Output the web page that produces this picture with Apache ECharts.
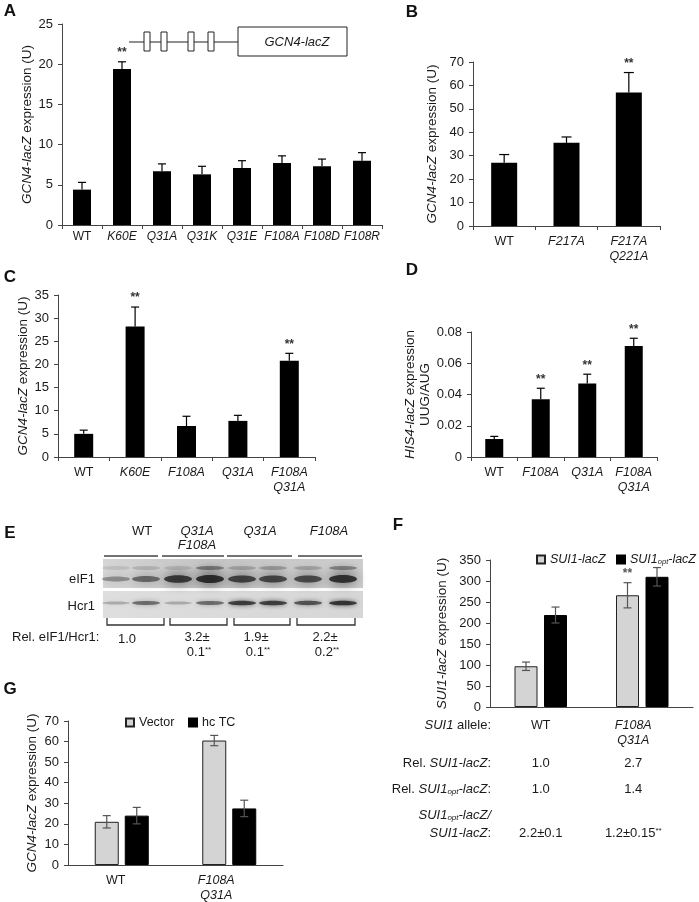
<!DOCTYPE html>
<html><head><meta charset="utf-8">
<script src="https://cdn.jsdelivr.net/npm/echarts@6/dist/echarts.min.js"></script>
<style>html,body{margin:0;padding:0;background:#fff}#c{width:699px;height:902px}</style>
</head><body><div id="c"></div>
<script>
// ---------- DATA ----------
// Panel A
const catsA = ['WT','K60E','Q31A','Q31K','Q31E','F108A','F108D','F108R'];
const valsA = [4.4,19.4,6.7,6.3,7.1,7.7,7.3,8.0];
const errA  = [0.9,0.9,0.9,1.0,0.9,0.9,0.9,1.0];
const sigA  = ['','**','','','','','',''];
const ticksA = [0,5,10,15,20,25];
// Panel B
const catsB = ['WT','F217A','F217A\nQ221A'];
const valsB = [27,35.5,57];
const errB  = [3.5,2.5,8.5];
const sigB  = ['','','**'];
const ticksB = [0,10,20,30,40,50,60,70];
// Panel C
const catsC = ['WT','K60E','F108A','Q31A','F108A\nQ31A'];
const valsC = [5.0,28.2,6.7,7.8,20.8];
const errC  = [0.8,4.2,2.1,1.2,1.6];
const sigC  = ['','**','','','**'];
const ticksC = [0,5,10,15,20,25,30,35];
// Panel D
const catsD = ['WT','F108A','Q31A','F108A\nQ31A'];
const valsD = [0.0115,0.037,0.047,0.071];
const errD  = [0.0017,0.007,0.006,0.005];
const sigD  = ['','**','**','**'];
const ticksD = [0,0.02,0.04,0.06,0.08];
// Panel E (western blot)
const lanesE = ['WT','Q31A\nF108A','Q31A','F108A'];
const relE   = ['1.0','3.2±\n0.1**','1.9±\n0.1**','2.2±\n0.2**'];
const eif1Band  = [0.42,0.62,0.92,1.0,0.85,0.82,0.8,0.97];
const eif1Upper = [0.12,0.18,0.14,0.5,0.25,0.3,0.25,0.45];
const hcr1Band  = [0.28,0.6,0.28,0.6,0.85,0.85,0.72,0.9];
// Panel F
const catsF = ['WT','F108A\nQ31A'];
const seriesF = ['SUI1-lacZ','SUI1opt-lacZ'];
const valsF1 = [97,266];   const errF1 = [10,30]; const sigF1 = ['','**'];
const valsF2 = [219,310];  const errF2 = [19,22];
const ticksF = [0,50,100,150,200,250,300,350];
const relSui1    = ['1.0','2.7'];
const relSui1opt = ['1.0','1.4'];
const ratioF     = ['2.2±0.1','1.2±0.15**'];
// Panel G
const catsG = ['WT','F108A\nQ31A'];
const seriesG = ['Vector','hc TC'];
const valsG1 = [21,60.5]; const errG1 = [3,2.5];
const valsG2 = [24,27.5]; const errG2 = [4,4];
const ticksG = [0,10,20,30,40,50,60,70];

// ---------- STYLE ----------
const FONT = '"Liberation Sans", Arial, sans-serif';
const FS = 12.5, NS = 13.5;
const TXT = '#1a1a1a';
const AX = '#444';
const LIGHT = '#d4d4d4';

const chart = echarts.init(document.getElementById('c'), null, {renderer:'canvas'});

function catFmt(padMap){
  return function(v, idx){
    const pad = padMap ? padMap[idx] : 0;
    return v.split('\n').map(s => {
      const k = (s === 'WT' ? 'n' : 'i') + (pad ? 'p' + pad : '');
      return '{' + k + '|' + s + '}';
    }).join('\n');
  };
}
function richCat(pads, fs){
  const r = {
    n:{fontFamily:FONT,fontSize:fs,color:TXT,lineHeight:15},
    i:{fontFamily:FONT,fontSize:fs,fontStyle:'italic',color:TXT,lineHeight:15}
  };
  (pads||[]).forEach(p => { if(p){
    r['np'+p] = Object.assign({}, r.n, {padding:[0,p,0,0]});
    r['ip'+p] = Object.assign({}, r.i, {padding:[0,p,0,0]});
  }});
  return r;
}
function mkX(grid, cats, margin, ticks, pads, fs){
  fs = fs || FS;
  return {type:'category', gridIndex:grid, data:cats,
    axisLine:{lineStyle:{color:AX,width:1}},
    axisTick:{show:ticks, length:4, lineStyle:{color:AX}},
    axisLabel:{interval:0, margin:margin, formatter:catFmt(pads), rich:richCat(pads, fs),
      fontFamily:FONT, fontSize:fs, color:TXT}};
}
function mkY(grid, ticks, name, gap){
  return {type:'value', gridIndex:grid, min:ticks[0], max:ticks[ticks.length-1], interval:ticks[1]-ticks[0],
    splitLine:{show:false},
    axisLine:{show:true, lineStyle:{color:AX,width:1}},
    axisTick:{show:true, length:4, lineStyle:{color:AX}},
    axisLabel:{margin:9, fontFamily:FONT, fontSize:13, color:TXT,
      formatter: v => String(+v.toFixed(3))},
    name:name, nameLocation:'middle', nameGap:gap,
    nameTextStyle:{fontFamily:FONT, fontSize:NS, color:TXT, lineHeight:15,
      rich:{i:{fontFamily:FONT,fontSize:NS,fontStyle:'italic',color:TXT},
            s:{fontFamily:FONT,fontSize:8,fontStyle:'italic',color:TXT,verticalAlign:'bottom'}}}};
}
// one-sided (upper) error bar + significance
function errUp(sig, capW){
  return function(params, api){
    const x = api.value(0), v = api.value(1), e = api.value(2);
    const b = api.coord([x, v]), t = api.coord([x, v + e]);
    const ch = [
      {type:'line', shape:{x1:b[0],y1:b[1],x2:t[0],y2:t[1]}, style:{stroke:'#000',lineWidth:1.2}},
      {type:'line', shape:{x1:t[0]-capW/2,y1:t[1],x2:t[0]+capW/2,y2:t[1]}, style:{stroke:'#000',lineWidth:1.2}}
    ];
    const s = sig[params.dataIndex];
    if (s) ch.push({type:'text', style:{text:s, x:t[0], y:t[1]-3, textAlign:'center', textVerticalAlign:'bottom',
      font:'bold 12px ' + FONT, fill:'#333'}});
    return {type:'group', children:ch};
  };
}
// two-sided error bar with pixel offset inside group
function errBoth(sig, off, capW){
  return function(params, api){
    const x = api.value(0), v = api.value(1), e = api.value(2);
    const lo = api.coord([x, v - e]), hi = api.coord([x, v + e]);
    const px = lo[0] + off;
    const st = {stroke:'#555',lineWidth:1.2};
    const ch = [
      {type:'line', shape:{x1:px,y1:lo[1],x2:px,y2:hi[1]}, style:st},
      {type:'line', shape:{x1:px-capW/2,y1:hi[1],x2:px+capW/2,y2:hi[1]}, style:st},
      {type:'line', shape:{x1:px-capW/2,y1:lo[1],x2:px+capW/2,y2:lo[1]}, style:st}
    ];
    const s = sig && sig[params.dataIndex];
    if (s) ch.push({type:'text', style:{text:s, x:px, y:hi[1]-3, textAlign:'center', textVerticalAlign:'bottom',
      font:'bold 12px ' + FONT, fill:'#555'}});
    return {type:'group', children:ch};
  };
}
const tri = (vals, errs) => vals.map((v,i) => [i, v, errs[i]]);

const grids = [
  {left:62,  top:24,  width:320, height:201}, // A
  {left:473, top:62,  width:187, height:164}, // B
  {left:58,  top:295, width:257, height:162}, // C
  {left:471, top:332, width:186, height:125}, // D
  {left:490, top:560, width:203, height:147}, // F
  {left:68,  top:721, width:215, height:145}  // G
];

const bwF = 23, gapF = 6.5, bwG = 24, gapG = 6;
const legText = {fontFamily:FONT, fontSize:12.5, color:TXT,
  rich:{i:{fontFamily:FONT,fontSize:12.5,fontStyle:'italic',color:TXT},
        s:{fontFamily:FONT,fontSize:7.5,fontStyle:'italic',color:TXT,verticalAlign:'bottom'}}};
const legFmt = n => n === 'SUI1opt-lacZ' ? '{i|SUI1}{s|opt}{i|-lacZ}' : (n === 'SUI1-lacZ' ? '{i|' + n + '}' : n);
const legBase = {itemWidth:8, itemHeight:8, icon:'rect', padding:0, textStyle:legText, formatter:legFmt};

const option = {
  animation:false,
  backgroundColor:'#fff',
  textStyle:{fontFamily:FONT},
  grid: grids.map(g => Object.assign({containLabel:false}, g)),
  xAxis:[
    mkX(0, catsA, 4, true, null, 12),
    mkX(1, catsB, 8, true),
    mkX(2, catsC, 8, true),
    mkX(3, catsD, 8, true),
    mkX(4, catsF, 11, false, [0,18]),
    mkX(5, catsG, 8, false, [12,26])
  ],
  yAxis:[
    mkY(0, ticksA, '{i|GCN4-lacZ} expression (U)', 27),
    mkY(1, ticksB, '{i|GCN4-lacZ} expression (U)', 33),
    mkY(2, ticksC, '{i|GCN4-lacZ} expression (U)', 24),
    mkY(3, ticksD, '{i|HIS4-lacZ} expression\nUUG/AUG', 37),
    mkY(4, ticksF, '{i|SUI1-lacZ} expression (U)', 40),
    mkY(5, ticksG, '{i|GCN4-lacZ} expression (U)', 28)
  ],
  legend:[
    Object.assign({data:[seriesF[0]], left:536, top:553}, legBase),
    Object.assign({data:[seriesF[1]], left:616, top:553}, legBase),
    Object.assign({data:[seriesG[0]], left:125, top:716}, legBase),
    Object.assign({data:[seriesG[1]], left:188, top:716}, legBase)
  ],
  series:[
    {type:'bar', xAxisIndex:0, yAxisIndex:0, data:valsA, barWidth:18, itemStyle:{color:'#000'}, silent:true},
    {type:'custom', xAxisIndex:0, yAxisIndex:0, data:tri(valsA,errA), renderItem:errUp(sigA,8), z:5, silent:true},
    {type:'bar', xAxisIndex:1, yAxisIndex:1, data:valsB, barWidth:26, itemStyle:{color:'#000'}, silent:true},
    {type:'custom', xAxisIndex:1, yAxisIndex:1, data:tri(valsB,errB), renderItem:errUp(sigB,10), z:5, silent:true},
    {type:'bar', xAxisIndex:2, yAxisIndex:2, data:valsC, barWidth:19, itemStyle:{color:'#000'}, silent:true},
    {type:'custom', xAxisIndex:2, yAxisIndex:2, data:tri(valsC,errC), renderItem:errUp(sigC,8), z:5, silent:true},
    {type:'bar', xAxisIndex:3, yAxisIndex:3, data:valsD, barWidth:18, itemStyle:{color:'#000'}, silent:true},
    {type:'custom', xAxisIndex:3, yAxisIndex:3, data:tri(valsD,errD), renderItem:errUp(sigD,8), z:5, silent:true},
    {name:seriesF[0], type:'bar', xAxisIndex:4, yAxisIndex:4, data:valsF1, barWidth:bwF, barGap:(gapF/bwF*100)+'%',
     itemStyle:{color:LIGHT, borderColor:'#222', borderWidth:1}, silent:true},
    {name:seriesF[1], type:'bar', xAxisIndex:4, yAxisIndex:4, data:valsF2, barWidth:bwF,
     itemStyle:{color:'#000', borderColor:'#000', borderWidth:1}, silent:true},
    {type:'custom', xAxisIndex:4, yAxisIndex:4, data:tri(valsF1,errF1), renderItem:errBoth(sigF1, -(bwF+gapF)/2, 8), z:5, silent:true},
    {type:'custom', xAxisIndex:4, yAxisIndex:4, data:tri(valsF2,errF2), renderItem:errBoth(null, (bwF+gapF)/2, 8), z:5, silent:true},
    {name:seriesG[0], type:'bar', xAxisIndex:5, yAxisIndex:5, data:valsG1, barWidth:bwG, barGap:(gapG/bwG*100)+'%',
     itemStyle:{color:LIGHT, borderColor:'#222', borderWidth:1}, silent:true},
    {name:seriesG[1], type:'bar', xAxisIndex:5, yAxisIndex:5, data:valsG2, barWidth:bwG,
     itemStyle:{color:'#000', borderColor:'#000', borderWidth:1}, silent:true},
    {type:'custom', xAxisIndex:5, yAxisIndex:5, data:tri(valsG1,errG1), renderItem:errBoth(null, -(bwG+gapG)/2, 8), z:5, silent:true},
    {type:'custom', xAxisIndex:5, yAxisIndex:5, data:tri(valsG2,errG2), renderItem:errBoth(null, (bwG+gapG)/2, 8), z:5, silent:true}
  ]
};
chart.setOption(option);

// ---------- GRAPHIC (letters, diagram, blot, table) ----------
const G = [];
const txt = (text, x, y, o) => Object.assign({type:'text', silent:true,
  style:Object.assign({text:text, x:x, y:y, font:'13px ' + FONT, fill:TXT, textAlign:'center', textVerticalAlign:'middle'}, (o||{}))});
const richI = {i:{fontFamily:FONT,fontSize:13,fontStyle:'italic',fill:TXT, color:TXT},
               n:{fontFamily:FONT,fontSize:13,fill:TXT,color:TXT},
               s:{fontFamily:FONT,fontSize:8,fontStyle:'italic',fill:TXT,color:TXT,verticalAlign:'bottom'},
               sup:{fontFamily:FONT,fontSize:8,fill:TXT,color:TXT,verticalAlign:'top'}};

// panel letters
[['A',10,11],['B',412,12],['C',10,277],['D',412,270],['E',10,533],['F',398,525],['G',10,689]].forEach(l =>
  G.push(txt(l[0], l[1], l[2], {font:'bold 17px ' + FONT, fill:'#111'})));

// gene diagram (panel A)
G.push({type:'line', silent:true, shape:{x1:129,y1:42,x2:238,y2:42}, style:{stroke:'#222',lineWidth:1.2}});
[144,161,188,208].forEach(x => G.push({type:'rect', silent:true, shape:{x:x,y:32,width:6,height:19},
  style:{fill:'#fff',stroke:'#222',lineWidth:1}}));
G.push({type:'rect', silent:true, shape:{x:238,y:27,width:109,height:29}, style:{fill:'#fff',stroke:'#222',lineWidth:1}});
G.push(txt('GCN4-lacZ', 297, 42, {font:'italic 13px ' + FONT}));

// panel E: headings
const headX = [142, 197, 260, 329];
lanesE.forEach((s,i) => G.push(txt(s, headX[i], s.indexOf('\n')>=0 ? 538 : 531,
  {font:(s==='WT'?'':'italic ') + '13px ' + FONT, lineHeight:14})));
// lines above lanes
[[104,158],[162,224],[227,292],[298,362]].forEach(s => G.push({type:'line', silent:true,
  shape:{x1:s[0],y1:556,x2:s[1],y2:556}, style:{stroke:'#444',lineWidth:1.5}}));
// blot backgrounds
G.push({type:'rect', silent:true, shape:{x:103,y:559,width:260,height:29},
  style:{fill:new echarts.graphic.LinearGradient(0,0,1,0,[{offset:0,color:'#d5d5d5'},{offset:0.4,color:'#c4c4c4'},{offset:1,color:'#cdcdcd'}])}});
G.push({type:'rect', silent:true, shape:{x:103,y:591,width:260,height:27},
  style:{fill:new echarts.graphic.LinearGradient(0,0,1,0,[{offset:0,color:'#dedede'},{offset:1,color:'#d6d6d6'}])}});
const laneX = [116,146,178,210,242,273,308,343];
laneX.forEach((x,i) => {
  const a1 = eif1Band[i], a0 = eif1Upper[i], a2 = hcr1Band[i];
  G.push({type:'ellipse', silent:true, shape:{cx:x, cy:568, rx:14, ry:2},
    style:{fill:'rgba(50,50,50,'+a0+')', shadowBlur:6, shadowColor:'rgba(50,50,50,'+a0+')'}});
  G.push({type:'ellipse', silent:true, shape:{cx:x, cy:579, rx:14, ry:1.5 + 2.5*a1},
    style:{fill:'rgba(25,25,25,'+(0.85*a1)+')', shadowBlur:6 + 6*a1, shadowColor:'rgba(25,25,25,'+a1+')'}});
  G.push({type:'ellipse', silent:true, shape:{cx:x, cy:603, rx:14, ry:1.2 + 1.3*a2},
    style:{fill:'rgba(25,25,25,'+(0.85*a2)+')', shadowBlur:5, shadowColor:'rgba(25,25,25,'+a2+')'}});
});
G.push(txt('eIF1', 95, 579, {textAlign:'right'}));
G.push(txt('Hcr1', 95, 606, {textAlign:'right'}));
// brackets below
[[107,164],[170,227],[234,290],[297,355]].forEach(s => G.push({type:'polyline', silent:true,
  shape:{points:[[s[0],618],[s[0],625],[s[1],625],[s[1],618]]}, style:{stroke:'#333',lineWidth:1.3,fill:null}}));
G.push(txt('Rel. eIF1/Hcr1:', 12, 637, {textAlign:'left'}));
const relX = [127, 197, 256, 325];
relE.forEach((s,i) => {
  const parts = s.split('\n');
  if (parts.length === 1) G.push(txt(s, relX[i], 639));
  else {
    G.push(txt(parts[0], relX[i], 637));
    G.push(txt(parts[1].replace('**','{sup|**}'), relX[i]+2, 652, {rich:richI}));
  }
});

chart.setOption({graphic:{elements:G}});

// panel F table, columns from the category axis
const colF = catsF.map((c,i) => chart.convertToPixel({xAxisIndex:4}, i) - (i ? 9 : 0));
const T = [];
const rowLab = (t, y) => T.push(txt(t, 491, y, {textAlign:'right', rich:richI}));
rowLab('{i|SUI1}{n| allele:}', 725);
rowLab('{n|Rel. }{i|SUI1-lacZ}{n|:}', 763);
rowLab('{n|Rel. }{i|SUI1}{s|opt}{i|-lacZ}{n|:}', 789);
rowLab('{i|SUI1}{s|opt}{i|-lacZ/}', 815);
rowLab('{i|SUI1-lacZ}{n|:}', 833);
colF.forEach((x,i) => {
  T.push(txt(relSui1[i], x, 763));
  T.push(txt(relSui1opt[i], x, 789));
  T.push(txt('{n|' + ratioF[i].replace('**','}{sup|**}') + (ratioF[i].indexOf('**')>=0 ? '' : '}'), x, 833, {rich:richI}));
});
chart.setOption({graphic:{elements:G.concat(T)}});
</script>
</body></html>
